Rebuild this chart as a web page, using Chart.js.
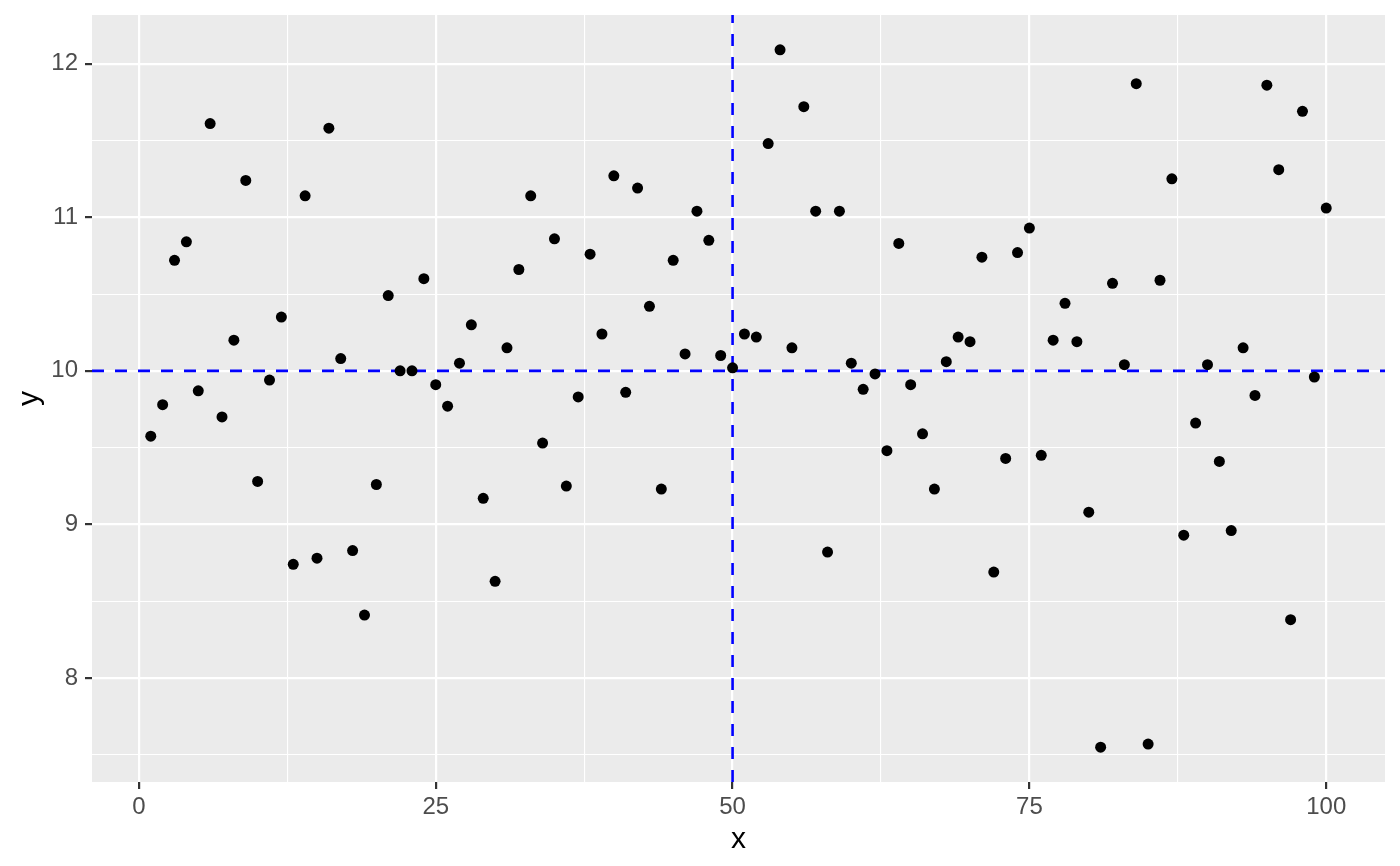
<!DOCTYPE html>
<html>
<head>
<meta charset="utf-8">
<script src="https://cdn.jsdelivr.net/npm/chart.js@4"></script>
<style>
  html, body { margin: 0; padding: 0; background: #fff; }
  #wrap { width: 1400px; height: 866px; }
</style>
</head>
<body>
<div id="wrap"><canvas id="scatterChart" width="1400" height="866"></canvas></div>
<script>
// x positions 1..100 and y values
const xValues = [
    1, 2, 3, 4, 5, 6, 7, 8, 9, 10,
    11, 12, 13, 14, 15, 16, 17, 18, 19, 20,
    21, 22, 23, 24, 25, 26, 27, 28, 29, 30,
    31, 32, 33, 34, 35, 36, 37, 38, 39, 40,
    41, 42, 43, 44, 45, 46, 47, 48, 49, 50,
    51, 52, 53, 54, 55, 56, 57, 58, 59, 60,
    61, 62, 63, 64, 65, 66, 67, 68, 69, 70,
    71, 72, 73, 74, 75, 76, 77, 78, 79, 80,
    81, 82, 83, 84, 85, 86, 87, 88, 89, 90,
    91, 92, 93, 94, 95, 96, 97, 98, 99, 100
];
const yValues = [
    9.575, 9.78, 10.72, 10.84, 9.87, 11.61, 9.70, 10.20, 11.24, 9.28,
    9.94, 10.35, 8.74, 11.14, 8.78, 11.58, 10.08, 8.83, 8.41, 9.26,
    10.49, 10.00, 10.00, 10.60, 9.91, 9.77, 10.05, 10.30, 9.17, 8.63,
    10.15, 10.66, 11.14, 9.53, 10.86, 9.25, 9.83, 10.76, 10.24, 11.27,
    9.86, 11.19, 10.42, 9.23, 10.72, 10.11, 11.04, 10.85, 10.10, 10.02,
    10.24, 10.22, 11.48, 12.09, 10.15, 11.72, 11.04, 8.82, 11.04, 10.05,
    9.88, 9.98, 9.48, 10.83, 9.91, 9.59, 9.23, 10.06, 10.22, 10.19,
    10.74, 8.69, 9.43, 10.77, 10.93, 9.45, 10.20, 10.44, 10.19, 9.08,
    7.55, 10.57, 10.04, 11.87, 7.57, 10.59, 11.25, 8.93, 9.66, 10.04,
    9.41, 8.96, 10.15, 9.84, 11.86, 11.31, 8.38, 11.69, 9.96, 11.06
];

// reference lines
const hLineY = 10;
const vLineX = 50;

// axis ticks (major are labelled, minor are only grid lines)
const xMajorTicks = [0, 25, 50, 75, 100];
const xMinorTicks = [12.5, 37.5, 62.5, 87.5];
const yMajorTicks = [8, 9, 10, 11, 12];
const yMinorTicks = [7.5, 8.5, 9.5, 10.5, 11.5];

const xLimits = [-3.95, 104.95];
const yLimits = [7.323, 12.317];

const points = xValues.map((x, i) => ({ x: x, y: yValues[i] }));

const tickFont = { family: 'Liberation Sans, Arial, sans-serif', size: 24 };
const titleFont = { family: 'Liberation Sans, Arial, sans-serif', size: 30 };

function isMajor(list, v) {
    return list.some(t => Math.abs(t - v) < 1e-6);
}

// grey panel background
const panelBackground = {
    id: 'panelBackground',
    beforeDraw(chart) {
        const a = chart.chartArea;
        const ctx = chart.ctx;
        ctx.save();
        ctx.fillStyle = '#ebebeb';
        ctx.fillRect(a.left, a.top, a.right - a.left, a.bottom - a.top);
        ctx.restore();
    }
};

let scatterChart = new Chart(document.getElementById('scatterChart'), {
    type: 'scatter',
    data: {
        datasets: [
            {
                label: 'points',
                data: points,
                backgroundColor: '#000',
                borderColor: '#000',
                pointRadius: 5.5,
                pointBorderWidth: 0,
                order: 0
            },
            {
                label: 'hline',
                type: 'line',
                data: [{ x: xLimits[0], y: hLineY }, { x: xLimits[1], y: hLineY }],
                borderColor: '#0000ff',
                borderWidth: 2.6,
                borderDash: [12, 11],
                pointRadius: 0,
                fill: false,
                order: 1
            },
            {
                label: 'vline',
                type: 'line',
                data: [{ x: vLineX, y: yLimits[0] }, { x: vLineX, y: yLimits[1] }],
                borderColor: '#0000ff',
                borderWidth: 2.6,
                borderDash: [12, 11],
                pointRadius: 0,
                fill: false,
                order: 1
            }
        ]
    },
    options: {
        responsive: false,
        animation: false,
        layout: { padding: { left: 0, right: 15, top: 15, bottom: 0 } },
        plugins: {
            legend: { display: false },
            tooltip: { enabled: false }
        },
        scales: {
            x: {
                type: 'linear',
                min: xLimits[0],
                max: xLimits[1],
                afterBuildTicks: scale => {
                    scale.ticks = xMajorTicks.concat(xMinorTicks).sort((a, b) => a - b).map(v => ({ value: v }));
                },
                afterFit: scale => {
                    scale.height = 84;
                    scale.paddingLeft = 0;
                    scale.paddingRight = 0;
                },
                border: { display: false },
                grid: {
                    color: '#ffffff',
                    lineWidth: ctx => isMajor(xMajorTicks, ctx.tick.value) ? 2.2 : 1.1,
                    drawTicks: true,
                    tickLength: 7,
                    tickWidth: 2.2,
                    tickColor: ctx => isMajor(xMajorTicks, ctx.tick.value) ? '#333333' : 'rgba(0,0,0,0)'
                },
                ticks: {
                    autoSkip: false,
                    maxRotation: 0,
                    padding: 4,
                    color: '#4d4d4d',
                    font: tickFont,
                    callback: v => isMajor(xMajorTicks, v) ? String(v) : ''
                },
                title: {
                    display: true,
                    text: 'x',
                    color: '#000',
                    font: titleFont,
                    padding: { top: 0, bottom: 8 }
                }
            },
            y: {
                type: 'linear',
                min: yLimits[0],
                max: yLimits[1],
                afterBuildTicks: scale => {
                    scale.ticks = yMajorTicks.concat(yMinorTicks).sort((a, b) => a - b).map(v => ({ value: v }));
                },
                afterFit: scale => {
                    scale.width = 92;
                    scale.paddingTop = 0;
                    scale.paddingBottom = 0;
                },
                border: { display: false },
                grid: {
                    color: '#ffffff',
                    lineWidth: ctx => isMajor(yMajorTicks, ctx.tick.value) ? 2.2 : 1.1,
                    drawTicks: true,
                    tickLength: 7,
                    tickWidth: 2.2,
                    tickColor: ctx => isMajor(yMajorTicks, ctx.tick.value) ? '#333333' : 'rgba(0,0,0,0)'
                },
                ticks: {
                    autoSkip: false,
                    padding: 7,
                    color: '#4d4d4d',
                    font: tickFont,
                    callback: v => isMajor(yMajorTicks, v) ? String(v) : ''
                },
                title: {
                    display: true,
                    text: 'y',
                    color: '#000',
                    font: titleFont,
                    padding: { top: 12, bottom: 0 }
                }
            }
        }
    },
    plugins: [panelBackground]
});
</script>
</body>
</html>
